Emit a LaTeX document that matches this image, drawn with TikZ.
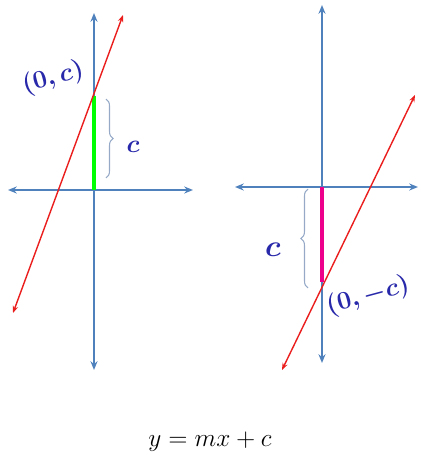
\documentclass[tikz,border=0pt]{standalone}
\usetikzlibrary{arrows.meta,decorations.pathreplacing}
\definecolor{axisblue}{RGB}{79,129,189}
\definecolor{linered}{RGB}{235,30,30}
\definecolor{labelblue}{RGB}{40,40,170}
\definecolor{bracegray}{RGB}{150,170,200}
\tikzset{
  axis/.style={axisblue,line width=1.2pt,{Stealth[length=5pt,width=4pt]}-{Stealth[length=5pt,width=4pt]}},
  graphline/.style={linered,line width=0.8pt,{Stealth[length=4pt,width=3pt]}-{Stealth[length=4pt,width=3pt]}},
  bracket/.style={bracegray,line width=0.6pt,decorate,decoration={brace,amplitude=4pt}},
  lbl/.style={labelblue,inner sep=0pt,font=\fontsize{13.5}{14}\selectfont\boldmath}
}
\begin{document}
\begin{tikzpicture}[x=0.02cm,y=0.02cm]
            \useasboundingbox (0,0) rectangle (420,464);

            % left graph
            \draw[axis] (94,94) -- (94,451);
            \draw[axis] (8,274) -- (193,274);
            \draw[green,line width=1.8pt] (94,274) -- (94,368);
            \draw[graphline] (13,151) -- (123,449);
            \draw[bracket] (106,365) -- (106,286);
            \node[lbl] (lc) at (133,317) {$c$};
            \node[lbl,rotate=15] (lpt) at (53,386) {$(0,c)$};

            % right graph
            \draw[axis] (322,101) -- (322,459);
            \draw[axis] (235,277) -- (418,277);
            \draw[magenta,line width=1.8pt] (322,277) -- (322,182);
            \draw[graphline] (282,94) -- (415,369);
            \draw[bracket] (308,176) -- (308,275);
            \node[lbl,font=\fontsize{18}{18}\selectfont\boldmath] (rc) at (273,214) {$c$};
            \node[lbl,rotate=15] (rpt) at (368,168) {$(0,-c)$};

            \node[font=\Large] (eq) at (210,22) {$y=mx+c$};
        \end{tikzpicture}
\end{document}
